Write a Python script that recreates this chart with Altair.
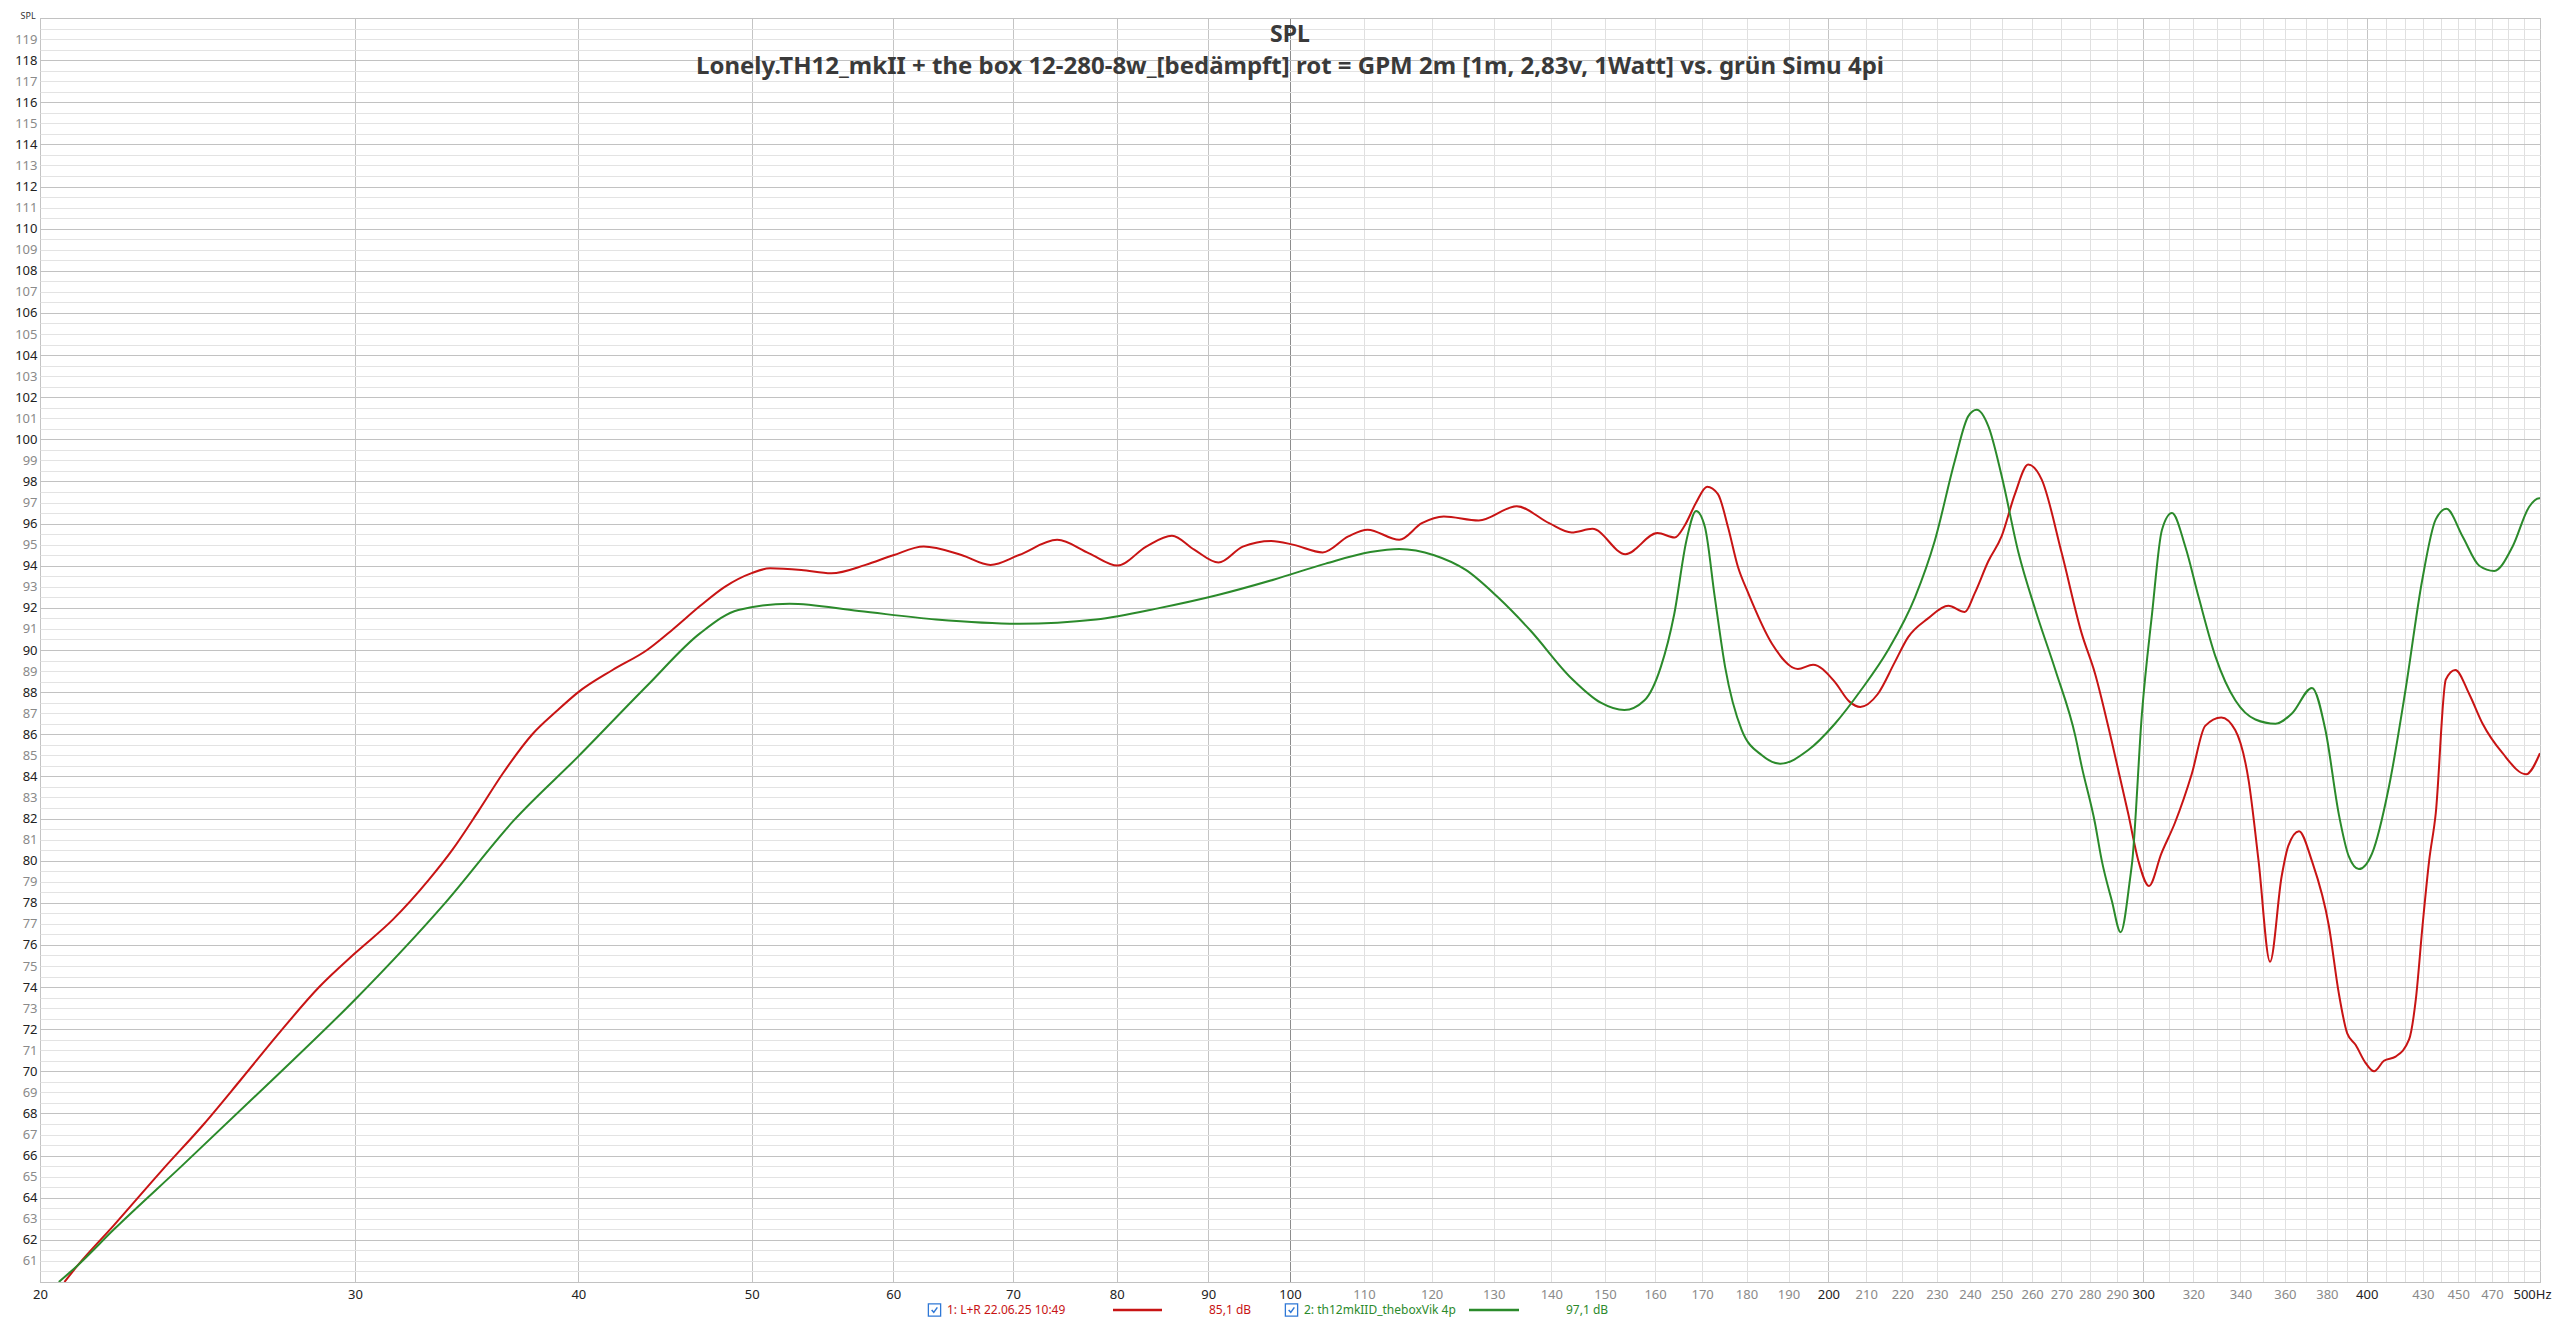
import altair as alt
import pandas as pd

# ---------------- data ----------------
red_freq = [20.64, 21.0, 22.0, 23.4, 24.7, 25.9, 27.2, 28.65, 30.0, 31.5, 33.0, 34.0, 35.2,
            36.3, 37.7, 38.9, 40.0, 41.8, 43.7, 45.2, 46.8, 48.3, 50.0, 51.2, 53.3, 55.4, 57.9,
            60.0, 62.4, 65.5, 68.0, 70.55, 74.1, 77.2, 80.1, 83.1, 85.9, 88.4, 91.2, 94.1,
            97.6, 100.5, 104.3, 107.8, 110.5, 115.1, 118.5, 121.9, 127.5, 133.9, 139.6,
            143.7, 147.6, 154.0, 160.5, 164.1, 166.2, 168.7, 171.1, 173.5, 175.8, 178.0,
            180.4, 186.0, 192.3, 196.1, 201.6, 205.5, 208.4, 213.1, 217.8, 221.6, 227.4,
            233.4, 238.4, 241.5, 245.7, 250.0, 254.3, 258.7, 263.2, 270.1, 277.1, 281.9,
            288.0, 294.3, 298.1, 302.2, 307.1, 312.5, 319.3, 324.9, 331.7, 337.7, 343.6,
            348.0, 353.2, 358.5, 361.6, 366.6, 372.7, 381.0, 385.9, 390.1, 394.3, 399.4,
            403.8, 409.0, 415.2, 422.4, 426.1, 429.8, 433.5, 437.2, 442.9, 448.3, 456.5,
            464.4, 476.5, 491.1, 500.0]
red_spl = [60.0, 60.8, 62.7, 65.3, 67.5, 69.6, 71.8, 74.0, 75.6, 77.2, 79.1, 80.5, 82.4,
           84.15, 86.0, 87.1, 88.0, 89.05, 90.0, 91.0, 92.1, 93.0, 93.65, 93.88, 93.8, 93.64, 94.04,
           94.5, 94.91, 94.51, 94.04, 94.51, 95.23, 94.59, 94.01, 94.91, 95.42, 94.76, 94.15, 94.91,
           95.18, 94.99, 94.63, 95.39, 95.71, 95.23, 96.02, 96.34, 96.15, 96.82, 96.02,
           95.58, 95.75, 94.55, 95.55, 95.34, 95.9, 97.0, 97.75, 97.4, 95.8, 93.96,
           92.7, 90.3, 89.1, 89.3, 88.5, 87.55, 87.3, 87.9, 89.4, 90.6, 91.5,
           92.1, 91.8, 92.7, 94.2, 95.4, 97.4, 98.8, 98.1, 94.6, 90.8, 88.9,
           85.7, 82.2, 80.0, 78.8, 80.35, 81.8, 84.1, 86.4, 86.8, 86.2, 83.8,
           80.0, 75.2, 79.25, 80.7, 81.4, 80.0, 76.9, 73.7, 71.8, 71.26, 70.4,
           70.0, 70.5, 70.7, 71.5, 73.4, 76.9, 80.0, 82.25, 88.6, 89.05, 87.9,
           86.5, 85.1, 84.1, 85.1]

green_freq = [20.49, 21.0, 22.0, 24.0, 26.98, 30.0, 33.7, 36.8, 40.0, 43.7, 46.8, 49.15,
              52.5, 57.4, 63.4, 70.55, 77.9, 84.6, 91.0, 98.0, 104.7, 110.9, 115.1, 120.4,
              125.4, 130.7, 136.2, 143.7, 149.2, 153.8, 157.8, 161.2, 164.0, 166.6, 168.7,
              170.6, 172.8, 175.1, 178.9, 183.6, 188.0, 194.9, 201.7, 208.6, 216.0, 223.6,
              229.4, 235.4, 239.5, 242.1, 245.8, 250.1, 255.5, 261.1, 267.9, 274.9, 277.1,
              281.9, 284.4, 288.1, 291.4, 294.9, 295.8, 299.5, 303.4, 307.3, 311.3, 316.7,
              322.2, 329.2, 337.8, 346.6, 355.7, 363.4, 372.8, 379.3, 385.9, 390.9, 396.0,
              402.8, 411.6, 420.5, 429.6, 437.2, 443.3, 452.5, 462.4, 471.4, 482.6, 493.1,
              499.5, 500.0]
green_spl = [60.0, 60.8, 62.5, 65.5, 69.6, 73.4, 78.0, 81.9, 84.95, 88.3, 90.8, 91.9,
             92.2, 91.85, 91.45, 91.25, 91.45, 92.0, 92.6, 93.35, 94.1, 94.65, 94.8, 94.5,
             93.8, 92.5, 90.95, 88.65, 87.5, 87.15, 87.6, 89.2, 91.7, 95.2, 96.6,
             95.85, 92.5, 89.2, 86.2, 85.0, 84.6, 85.25, 86.5, 88.1, 90.0, 92.5,
             95.2, 99.0, 101.1, 101.4, 100.6, 98.2, 94.6, 91.9, 89.05, 85.9, 84.5,
             81.8, 80.0, 78.1, 76.6, 79.1, 80.0, 87.0, 91.7, 95.7, 96.5, 94.9,
             92.5, 89.7, 87.6, 86.7, 86.5, 87.0, 88.2, 86.2, 82.2, 80.2, 79.6,
             80.35, 83.5, 88.1, 93.3, 96.2, 96.7, 95.4, 94.0, 93.75, 94.9, 96.8,
             97.2, 97.2]

series_names = ["1: L+R 22.06.25 10:49", "2: th12mkIID_theboxVik 4p"]
series_levels = ["85,1 dB", "97,1 dB"]
series_colors = ["#c81414", "#2b8a2b"]

title_main = "SPL"
title_sub = ("Lonely.TH12_mkII + the box 12-280-8w_[bedämpft] rot = GPM 2m "
             "[1m, 2,83v, 1Watt] vs. grün Simu 4pi")
y_axis_title = "SPL"

x_grid_values = list(range(20, 501, 10))
x_label_values = list(range(20, 301, 10)) + [320, 340, 360, 380, 400, 430, 450, 470, 500]
y_grid_values = [60 + 0.5 * i for i in range(121)]

# ---------------- build ----------------
df = pd.concat([
    pd.DataFrame({"freq": red_freq, "spl": red_spl, "series": series_names[0]}),
    pd.DataFrame({"freq": green_freq, "spl": green_spl, "series": series_names[1]}),
], ignore_index=True)

FONT = "Liberation Sans Narrow, Noto Sans, sans-serif"
TFONT = "Noto Sans, Open Sans, sans-serif"
W, H = 2500, 1264

label_list = "[" + ",".join(str(v) for v in x_label_values) + "]"

x_axis = alt.Axis(
    values=x_grid_values, ticks=False, domain=False, title=None,
    labelExpr=f"indexof({label_list}, datum.value) >= 0 ? (datum.value == 500 ? '500Hz' : '' + datum.value) : ''",
    labelFont=FONT, labelFontSize=13, labelPadding=6, labelOverlap=False,
    labelFlush=False, labelBound=False,
    labelOffset={"condition": {"test": "datum.value == 500", "value": -8}, "value": 0},
    labelColor={"condition": {"test": "datum.value <= 100 || datum.value % 100 == 0", "value": "#222222"},
                "value": "#8a8a8a"},
    gridColor={"condition": [{"test": "datum.value == 100", "value": "#8c8c8c"},
                             {"test": "datum.value < 100 || datum.value % 100 == 0", "value": "#c4c4c4"}],
               "value": "#e0e0e0"},
    gridOpacity=1, gridWidth=1,
)

y_axis = alt.Axis(
    values=y_grid_values, ticks=False, domain=False,
    labelExpr="(datum.value % 1 == 0 && datum.value > 60 && datum.value < 120) ? '' + datum.value : ''",
    labelFont=FONT, labelFontSize=13, labelPadding=3, labelOverlap=False,
    labelFlush=False, labelBound=False,
    labelColor={"condition": {"test": "datum.value % 2 == 0", "value": "#222222"}, "value": "#8a8a8a"},
    gridColor={"condition": {"test": "datum.value % 2 == 0", "value": "#c2c2c2"}, "value": "#e3e3e3"},
    gridOpacity=1, gridWidth=1,
    title=y_axis_title, titleAngle=0, titleX=-20, titleY=-3, titleAlign="left",
    titleBaseline="middle", titleFont=FONT, titleFontSize=9, titleFontWeight="normal",
    titleColor="#333333",
)

lines = alt.Chart(df).mark_line(strokeWidth=2, interpolate="monotone", clip=True).encode(
    x=alt.X("freq:Q", scale=alt.Scale(type="log", domain=[20, 500], nice=False), axis=x_axis),
    y=alt.Y("spl:Q", scale=alt.Scale(domain=[60, 120], nice=False, zero=False), axis=y_axis),
    color=alt.Color("series:N", scale=alt.Scale(domain=series_names, range=series_colors), legend=None),
    order=alt.Order("freq:Q"),
)

t_main = alt.Chart(pd.DataFrame({"t": [title_main]})).mark_text(
    font=TFONT, fontSize=23, fontWeight="bold", color="#3a3a3a",
    align="center", baseline="middle").encode(text="t:N", x=alt.value(1250), y=alt.value(17))
t_sub = alt.Chart(pd.DataFrame({"t": [title_sub]})).mark_text(
    font=TFONT, fontSize=24, fontWeight="bold", color="#3a3a3a",
    align="center", baseline="middle").encode(text="t:N", x=alt.value(1250), y=alt.value(49))

# legend row below the plot
LY = 1292
legend_layers = []
item_x = [(894.5, 907, 1073, 1122, 1169), (1251.5, 1264, 1429, 1479, 1526)]
CHECK = "M -0.6 0.0 L -0.15 0.5 L 0.6 -0.55"
for i, (cbx, tx, lx1, lx2, vx) in enumerate(item_x):
    d = pd.DataFrame({"name": [series_names[i]], "level": [series_levels[i]]})
    base = alt.Chart(d)
    legend_layers.append(base.mark_point(shape="square", filled=True, fill="white",
                                         stroke="#2f78d6", strokeWidth=1.3, size=150,
                                         opacity=1).encode(x=alt.value(cbx), y=alt.value(LY)))
    legend_layers.append(base.mark_point(shape=CHECK, filled=False, stroke="#2f78d6",
                                         strokeWidth=1.5, size=90, opacity=1).encode(
        x=alt.value(cbx), y=alt.value(LY)))
    legend_layers.append(base.mark_text(font=FONT, fontSize=12, align="left", baseline="middle",
                                        color=series_colors[i]).encode(
        text="name:N", x=alt.value(tx), y=alt.value(LY)))
    legend_layers.append(base.mark_rule(strokeWidth=2.5, color=series_colors[i]).encode(
        x=alt.value(lx1), x2=alt.value(lx2), y=alt.value(LY)))
    legend_layers.append(base.mark_text(font=FONT, fontSize=12, align="left", baseline="middle",
                                        color=series_colors[i]).encode(
        text="level:N", x=alt.value(vx), y=alt.value(LY)))

chart = alt.layer(lines, t_main, t_sub, *legend_layers).properties(
    width=W, height=H,
    padding={"left": 32, "top": 10, "right": 12, "bottom": 36},
    autosize=alt.AutoSizeParams(type="none"),
    background="white",
).configure_view(stroke="#b4b4b4", strokeWidth=1)

chart.save("out.html", embed_options={"renderer": "svg", "actions": False})
